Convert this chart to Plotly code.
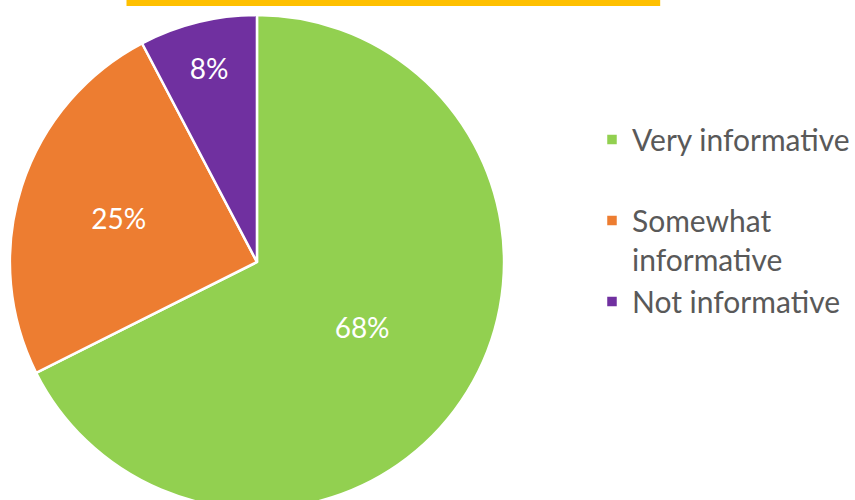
import plotly.graph_objects as go

legend_labels = ["Very informative<br> ", "Somewhat<br>informative", "Not informative"]
values = [67.6, 24.7, 7.7]
text_labels = ["68%", "25%", "8%"]
colors = ["#92D050", "#ED7D31", "#7030A0"]

W, H = 855, 512
TOP = 12

fig = go.Figure(go.Pie(
    labels=legend_labels,
    values=values,
    text=text_labels,
    textinfo="text",
    textposition="inside",
    insidetextorientation="horizontal",
    sort=False,
    direction="clockwise",
    rotation=0,
    marker=dict(colors=colors, line=dict(color="white", width=2.5)),
    textfont=dict(family="Lato", size=28, color="white"),
    domain=dict(x=[10 / W, 510 / W], y=[0, 1]),
    hoverinfo="skip",
))

fig.update_layout(
    width=W, height=H,
    margin=dict(l=0, r=0, t=TOP, b=0),
    paper_bgcolor="white",
    plot_bgcolor="white",
    showlegend=True,
    legend=dict(
        x=599 / W, xanchor="left",
        y=0.797, yanchor="top",
        valign="top",
        font=dict(family="Lato", size=30, color="#595959"),
        bgcolor="rgba(0,0,0,0)",
    ),
    shapes=[dict(
        type="rect", xref="paper", yref="paper",
        x0=128 / W, x1=668 / W, y0=1.012, y1=1.024,
        fillcolor="#FFC000", line=dict(width=0),
    )],
)

page_css = (
    "document.documentElement.style.overflow='hidden';"
    "document.body.style.margin='0';"
    "document.body.style.width='855px';"
    "document.body.style.height='500px';"
    "document.body.style.overflow='hidden';"
)

fig.write_html(
    "out.html",
    config={"displayModeBar": False},
    post_script=page_css,
)
